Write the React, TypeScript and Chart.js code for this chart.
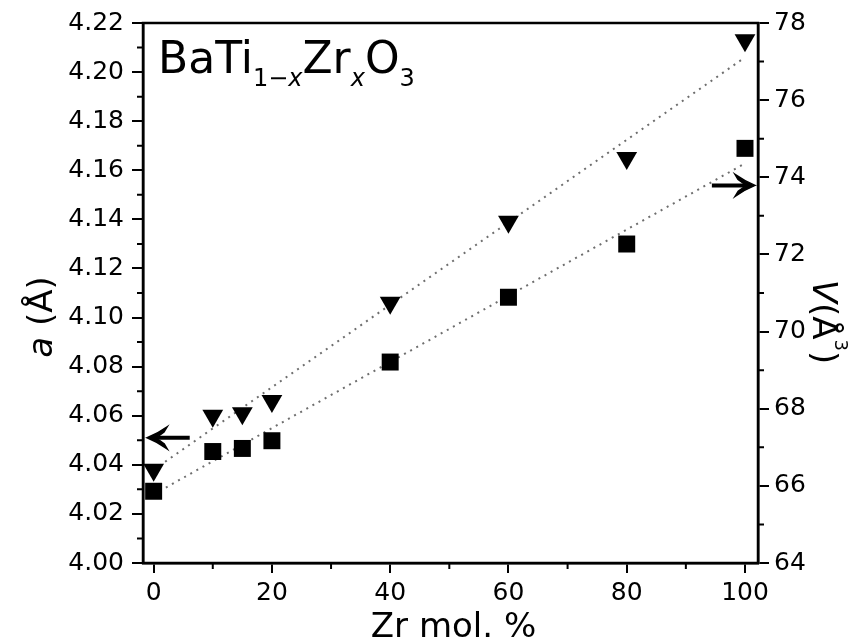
import React, { useEffect, useRef } from "react";
import { Chart, registerables } from "chart.js";

Chart.register(...registerables);

// ---- data ----
const xValues = [0, 10, 15, 20, 40, 60, 80, 100]; // Zr mol. %
const latticeA = [4.038, 4.060, 4.061, 4.066, 4.106, 4.139, 4.165, 4.213]; // a (Å), triangles
const volumeV = [65.86, 66.89, 66.97, 67.17, 69.21, 70.89, 72.27, 74.75]; // V (Å^3), squares

const fitX = [0, 100];
const fitA = [4.038, 4.206];
const fitV = [65.78, 74.36];

const xMajorTicks = [0, 20, 40, 60, 80, 100];
const xMinorTicks = [10, 30, 50, 70, 90];
const aMajorTicks = [4.0, 4.02, 4.04, 4.06, 4.08, 4.1, 4.12, 4.14, 4.16, 4.18, 4.2, 4.22];
const aMinorTicks = [4.01, 4.03, 4.05, 4.07, 4.09, 4.11, 4.13, 4.15, 4.17, 4.19, 4.21];
const vMajorTicks = [64, 66, 68, 70, 72, 74, 76, 78];
const vMinorTicks = [65, 67, 69, 71, 73, 75, 77];

// arrows pointing to the axis of each series (data coordinates)
const arrowA = { y: 4.051, xFrom: 6.1, xTo: -1.1 };
const arrowV = { y: 73.79, xFrom: 94.4, xTo: 101.7 };

const FONT = '"DejaVu Sans", "Liberation Sans", Arial, sans-serif';

const decorPlugin = {
  id: "decor",
  afterDraw(chart: any) {
    const { ctx, chartArea: ca, scales } = chart;
    const sx = scales.x, sa = scales.yA, sv = scales.yV;
    ctx.save();
    ctx.strokeStyle = "#000";
    ctx.fillStyle = "#000";

    // frame
    ctx.lineWidth = 2.5;
    ctx.strokeRect(ca.left, ca.top, ca.right - ca.left, ca.bottom - ca.top);

    // minor ticks
    ctx.lineWidth = 2;
    const minorLen = 6;
    ctx.beginPath();
    xMinorTicks.forEach((v) => {
      const px = sx.getPixelForValue(v);
      ctx.moveTo(px, ca.bottom);
      ctx.lineTo(px, ca.bottom + minorLen);
    });
    aMinorTicks.forEach((v) => {
      const py = sa.getPixelForValue(v);
      ctx.moveTo(ca.left, py);
      ctx.lineTo(ca.left - minorLen, py);
    });
    vMinorTicks.forEach((v) => {
      const py = sv.getPixelForValue(v);
      ctx.moveTo(ca.right, py);
      ctx.lineTo(ca.right + minorLen, py);
    });
    ctx.stroke();

    // arrows
    const drawArrow = (scaleY: any, a: any) => {
      const y = scaleY.getPixelForValue(a.y);
      const x1 = sx.getPixelForValue(a.xFrom);
      const x2 = sx.getPixelForValue(a.xTo);
      const dir = x2 > x1 ? 1 : -1;
      ctx.lineWidth = 4;
      ctx.lineCap = "butt";
      ctx.beginPath();
      ctx.moveTo(x1, y);
      ctx.lineTo(x2 - dir * 4, y);
      ctx.stroke();
      // filled barbed head
      ctx.beginPath();
      ctx.moveTo(x2, y);
      ctx.quadraticCurveTo(x2 - dir * 10, y - 4, x2 - dir * 20, y - 11);
      ctx.lineTo(x2 - dir * 17, y - 6);
      ctx.quadraticCurveTo(x2 - dir * 12, y - 2, x2 - dir * 8, y);
      ctx.quadraticCurveTo(x2 - dir * 12, y + 2, x2 - dir * 17, y + 6);
      ctx.lineTo(x2 - dir * 20, y + 11);
      ctx.quadraticCurveTo(x2 - dir * 10, y + 4, x2, y);
      ctx.closePath();
      ctx.fill();
      ctx.lineWidth = 1.5;
      ctx.stroke();
    };
    drawArrow(sa, arrowA);
    drawArrow(sv, arrowV);

    // compound label BaTi(1-x)Zr(x)O3
    const big = 44, small = 24;
    let tx = ca.left + 15;
    const by = ca.top + 50;
    const sy = by + 13;
    ctx.textBaseline = "alphabetic";
    ctx.textAlign = "left";
    const put = (t: string, size: number, italic: boolean, y: number) => {
      ctx.font = `${italic ? "italic " : ""}${size}px ${FONT}`;
      ctx.fillText(t, tx, y);
      tx += ctx.measureText(t).width;
    };
    put("BaTi", big, false, by);
    put("1\u2212", small, false, sy);
    put("x", small, true, sy);
    put("Zr", big, false, by);
    put("x", small, true, sy);
    put("O", big, false, by);
    put("3", small, false, sy);

    // x axis title
    ctx.font = `34px ${FONT}`;
    ctx.textAlign = "center";
    ctx.fillText("Zr mol. %", (ca.left + ca.right) / 2 + 3, chart.height - 4);

    // left axis title (rotated CCW)
    ctx.save();
    ctx.translate(52, (ca.top + ca.bottom) / 2 + 24);
    ctx.rotate(-Math.PI / 2);
    ctx.textAlign = "left";
    const pA1 = "a", pA2 = " (\u00C5)";
    ctx.font = `italic 34px ${FONT}`;
    const wA1 = ctx.measureText(pA1).width;
    ctx.font = `34px ${FONT}`;
    const wA2 = ctx.measureText(pA2).width;
    let lx = -(wA1 + wA2) / 2;
    ctx.font = `italic 34px ${FONT}`;
    ctx.fillText(pA1, lx, 0);
    lx += wA1;
    ctx.font = `34px ${FONT}`;
    ctx.fillText(pA2, lx, 0);
    ctx.restore();

    // right axis title (rotated CW)
    ctx.save();
    ctx.translate(813, (ca.top + ca.bottom) / 2 + 29);
    ctx.rotate(Math.PI / 2);
    ctx.textAlign = "left";
    const parts = [
      { t: "V", s: 34, i: true, dy: 0 },
      { t: "(\u00C5", s: 34, i: false, dy: 0 },
      { t: "3", s: 18, i: false, dy: -22 },
      { t: ")", s: 34, i: false, dy: 0 },
    ];
    let total = 0;
    parts.forEach((p) => {
      ctx.font = `${p.i ? "italic " : ""}${p.s}px ${FONT}`;
      total += ctx.measureText(p.t).width;
    });
    let rx = -total / 2;
    parts.forEach((p) => {
      ctx.font = `${p.i ? "italic " : ""}${p.s}px ${FONT}`;
      ctx.fillText(p.t, rx, p.dy);
      rx += ctx.measureText(p.t).width;
    });
    ctx.restore();

    ctx.restore();
  },
};

export default function App() {
  const canvasRef = useRef<HTMLCanvasElement | null>(null);

  useEffect(() => {
    const canvas = canvasRef.current;
    if (!canvas) return;
    const tickFont = { family: FONT, size: 25 };
    const chart = new Chart(canvas, {
      type: "scatter",
      data: {
        datasets: [
          {
            label: "a",
            data: xValues.map((x, i) => ({ x, y: latticeA[i] })),
            yAxisID: "yA",
            pointStyle: "triangle",
            rotation: 180,
            pointRadius: 12,
            pointHoverRadius: 12,
            backgroundColor: "#000",
            borderColor: "#000",
            borderWidth: 0,
            showLine: false,
            order: 1,
          },
          {
            label: "V",
            data: xValues.map((x, i) => ({ x, y: volumeV[i] })),
            yAxisID: "yV",
            pointStyle: "rect",
            pointRadius: 12,
            pointHoverRadius: 12,
            backgroundColor: "#000",
            borderColor: "#000",
            borderWidth: 0,
            showLine: false,
            order: 1,
          },
          {
            label: "fit a",
            data: fitX.map((x, i) => ({ x, y: fitA[i] })),
            yAxisID: "yA",
            showLine: true,
            pointRadius: 0,
            borderColor: "#6e6e6e",
            borderWidth: 2,
            borderDash: [2, 5],
            fill: false,
            order: 2,
          },
          {
            label: "fit V",
            data: fitX.map((x, i) => ({ x, y: fitV[i] })),
            yAxisID: "yV",
            showLine: true,
            pointRadius: 0,
            borderColor: "#6e6e6e",
            borderWidth: 2,
            borderDash: [2, 5],
            fill: false,
            order: 2,
          },
        ],
      },
      options: {
        responsive: false,
        animation: false,
        layout: { padding: { top: 23, left: 0, right: 0, bottom: 0 } },
        plugins: {
          legend: { display: false },
          tooltip: { enabled: false },
          title: { display: false },
        },
        scales: {
          x: {
            type: "linear",
            position: "bottom",
            min: -1.8,
            max: 102.2,
            afterBuildTicks: (s: any) => {
              s.ticks = xMajorTicks.map((v) => ({ value: v }));
            },
            afterFit: (s: any) => {
              s.height = 78;
            },
            ticks: {
              font: tickFont,
              color: "#000",
              padding: 5,
              autoSkip: false,
              maxRotation: 0,
              callback: (v: any) => String(v),
            },
            grid: {
              display: true,
              drawOnChartArea: false,
              drawTicks: true,
              tickLength: 10,
              color: "#000",
              lineWidth: 2,
            },
            border: { display: true, color: "#000", width: 2.5 },
          },
          yA: {
            type: "linear",
            position: "left",
            min: 4.0,
            max: 4.22,
            afterBuildTicks: (s: any) => {
              s.ticks = aMajorTicks.map((v) => ({ value: v }));
            },
            afterFit: (s: any) => {
              s.width = 143;
            },
            ticks: {
              font: tickFont,
              color: "#000",
              padding: 8,
              autoSkip: false,
              callback: (v: any) => Number(v).toFixed(2),
            },
            grid: {
              display: true,
              drawOnChartArea: false,
              drawTicks: true,
              tickLength: 11,
              color: "#000",
              lineWidth: 2,
            },
            border: { display: true, color: "#000", width: 2.5 },
          },
          yV: {
            type: "linear",
            position: "right",
            min: 64,
            max: 78,
            afterBuildTicks: (s: any) => {
              s.ticks = vMajorTicks.map((v) => ({ value: v }));
            },
            afterFit: (s: any) => {
              s.width = 102;
            },
            ticks: {
              font: tickFont,
              color: "#000",
              padding: 5,
              autoSkip: false,
              callback: (v: any) => String(v),
            },
            grid: {
              display: true,
              drawOnChartArea: false,
              drawTicks: true,
              tickLength: 11,
              color: "#000",
              lineWidth: 2,
            },
            border: { display: true, color: "#000", width: 2.5 },
          },
        },
      },
      plugins: [decorPlugin],
    } as any);
    return () => chart.destroy();
  }, []);

  return (
    <div style={{ position: "fixed", left: 0, top: 0, width: 860, height: 641, background: "#fff" }}>
      <canvas ref={canvasRef} width={860} height={641} style={{ display: "block" }} />
    </div>
  );
}
